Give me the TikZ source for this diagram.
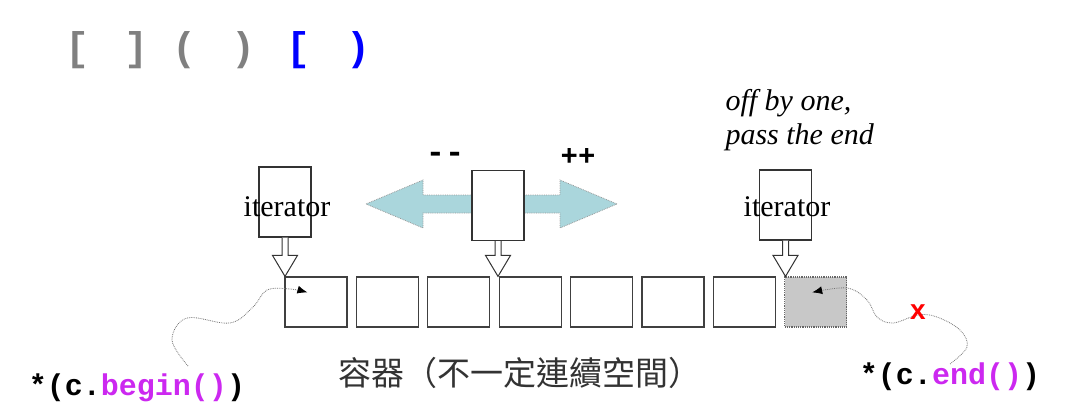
\documentclass[tikz,border=0pt]{standalone}
\usepackage{fontspec}
\setmainfont{Liberation Serif}
\setmonofont{Liberation Mono}
\newfontfamily\cjkfont{Noto Sans CJK TC}
\newfontfamily\sansfont{Liberation Sans}
\usetikzlibrary{arrows.meta,calc}
\definecolor{movecyan}{RGB}{170,214,220}
\definecolor{callmagenta}{RGB}{204,40,240}
\definecolor{pastgray}{RGB}{200,200,200}

\begin{document}
\begin{tikzpicture}[x=1pt,y=1pt,
  cell/.style={draw=black!75, line width=1.2pt, minimum width=62pt, minimum height=50pt, inner sep=0pt},
  pastcell/.style={cell, fill=pastgray, draw=black!60, densely dotted},
  itbox/.style={draw=black!80, line width=1.2pt, fill=white, minimum width=52pt, minimum height=70pt, inner sep=0pt},
  hollow/.style={draw=black!80, line width=1pt, fill=white},
  trail/.style={draw=black!55, line width=0.8pt, densely dotted},
  bracket/.style={font=\fontsize{40}{40}\selectfont\ttfamily\bfseries},
  code/.style={font=\fontsize{30}{30}\selectfont\ttfamily\bfseries},
  tip/.style={-{Latex[length=10pt,width=8pt,color=black]}}]
\useasboundingbox (0,0) rectangle (1069,416);
% Interval brackets at the top
\node[bracket, gray] (b1) at (78,366) {[};
\node[bracket, gray] (b2) at (137,366) {]};
\node[bracket, gray] (b3) at (185,366) {(};
\node[bracket, gray] (b4) at (243,366) {)};
\node[bracket, blue] (b5) at (298,366) {[};
\node[bracket, blue] (b6) at (358,366) {)};
% Row of container cells, the last one is past the end
\foreach \i in {0,...,6}
  \node[cell] (c\i) at ({316+71.4*\i},114) {};
\node[pastcell] (c7) at ({316+71.4*7},114) {};
% Double arrow for moving the iterator
\fill[movecyan] (366,212) -- (423,236) -- (423,221) -- (560,221) -- (560,236) -- (617,212)
  -- (560,188) -- (560,203) -- (423,203) -- (423,188) -- cycle;
\draw[trail, black!40] (366,212) -- (423,236) -- (423,221) -- (560,221) -- (560,236) -- (617,212)
  -- (560,188) -- (560,203) -- (423,203) -- (423,188) -- cycle;
\node[font=\fontsize{32}{32}\selectfont\ttfamily\bfseries] (dec) at (445,259) {-{}-};
\node[font=\fontsize{29}{29}\selectfont\ttfamily\bfseries] (inc) at (578,259) {++};
% Iterator boxes
\node[itbox] (itl) at (285,214) {};
\node[itbox] (mid) at (498,210.5) {};
\node[itbox] (itr) at (785.5,211) {};
\node[font=\fontsize{30}{30}\selectfont] (itltext) at (287,209) {iterator};
\node[font=\fontsize{30}{30}\selectfont] (itrtext) at (787,209) {iterator};
% Hollow arrows from the iterators down to the cells
\foreach \b/\c in {itl/c0, mid/c3, itr/c7}
  \draw[hollow] ($(\b.south)+(-3,0)$) -- ($(\b.south |- c0.north)+(-3,21)$) -- ++(-9.5,0)
    -- (\b.south |- \c.north) -- ++(12.5,21) -- ++(-9.5,0) -- ($(\b.south)+(3,0)$);
% Note above the right iterator
\node[anchor=west, align=left, font=\fontsize{30}{34}\selectfont\itshape] (note) at (722,296)
  {off by one,\\pass the end};
% Dereference labels
\node[code] (beginlbl) at (137,28) {*(c.\textcolor{callmagenta}{begin()})};
\node[code] (endlbl) at (950,39) {*(c.\textcolor{callmagenta}{end()})};
\coordinate (btip) at ($(c0.north west)+(23,-16)$);
\coordinate (etip) at ($(c7.north west)+(28,-16)$);
\draw[trail, tip] plot[smooth, tension=0.6] coordinates
  {(188,50) (172,76) (187,98) (230,93) (253,109) (267,126) (290,127) (btip)};
\draw[trail, tip] plot[smooth, tension=0.6] coordinates
  {(950,52) (967,69) (960,86) (937,99) (918,101) (893,93) (877,99) (867,116) (847,128) (etip)};
% Not allowed: dereferencing end
\node[red, font=\fontsize{28}{28}\selectfont\sansfont\bfseries] (cross) at (918,104) {x};
% Caption under the cells
\node[black!80, font=\fontsize{33}{33}\selectfont\cjkfont] (caption) at (520,43) {容器（不一定連續空間）};
\end{tikzpicture}
\end{document}
